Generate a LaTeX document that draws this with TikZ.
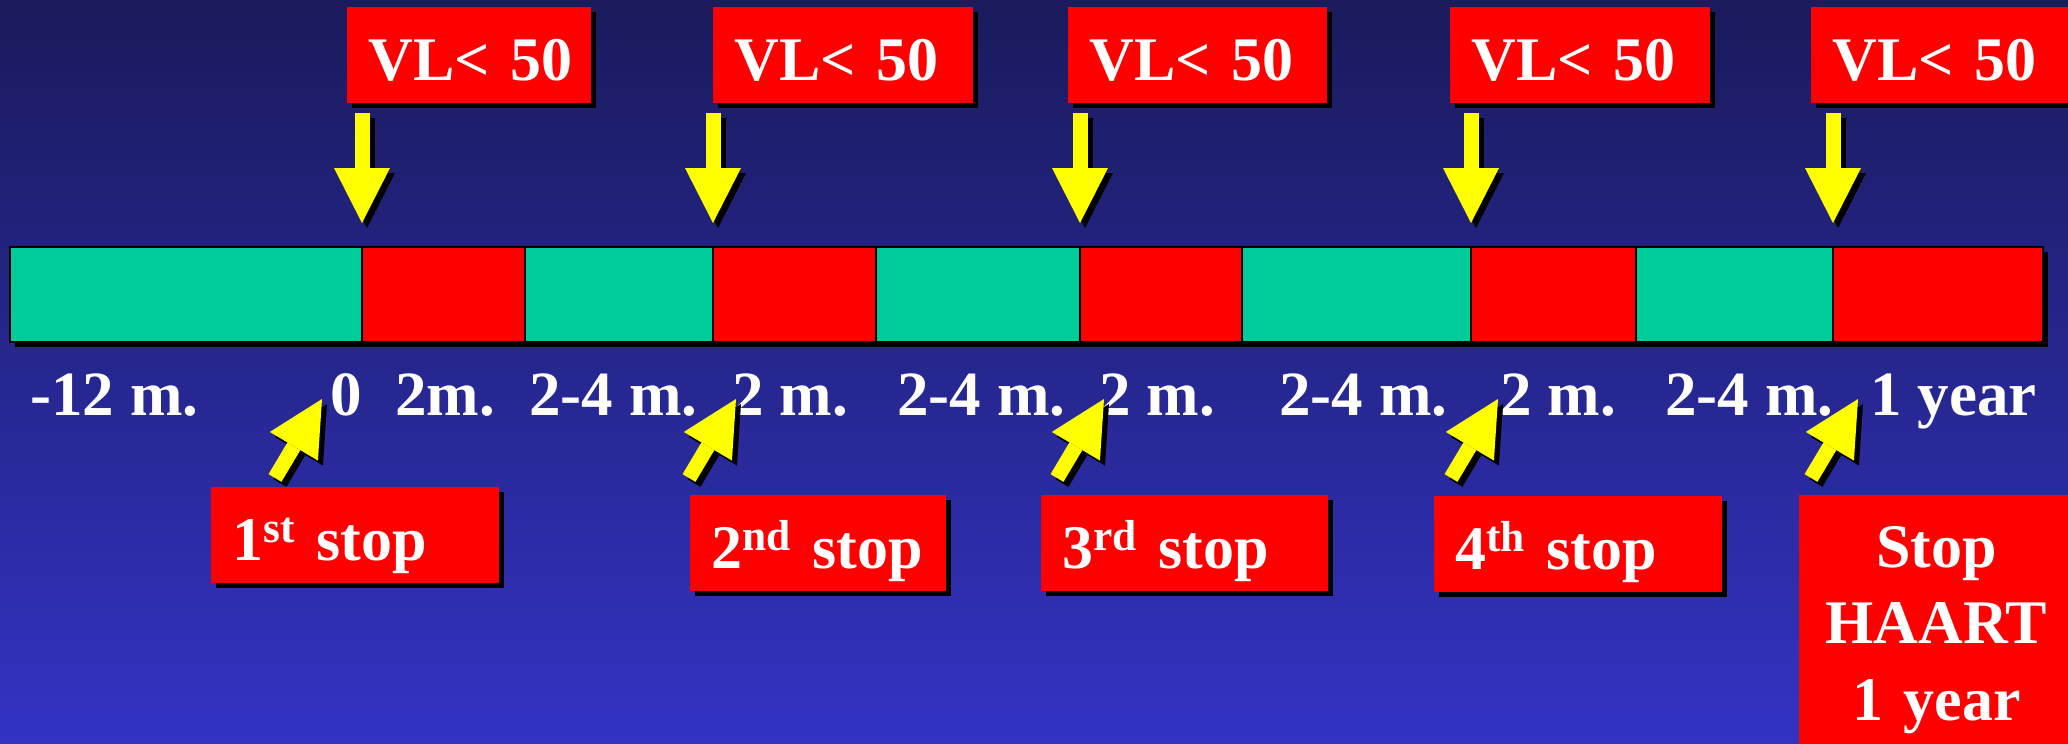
\documentclass[tikz,border=0pt]{standalone}
\usepackage{fontspec}
\setmainfont{Liberation Serif}
\usetikzlibrary{arrows.meta,shadows}
\definecolor{bgtop}{RGB}{26,26,92}
\definecolor{bgbot}{RGB}{51,51,196}
\definecolor{barteal}{RGB}{0,204,153}
\definecolor{boxred}{RGB}{255,0,0}
\definecolor{arrowyel}{RGB}{255,255,0}

\begin{document}
\begin{tikzpicture}[x=0.5pt, y=-0.5pt]
\useasboundingbox (0,0) rectangle (2068,744);
\shade[top color=bgtop, bottom color=bgbot] (0,0) rectangle (2068,744);

\tikzset{redbox/.style={fill=boxred, text=white, anchor=north west, align=left,
  inner xsep=10.5pt, inner ysep=0pt, text width=#1, text height=36.5pt, text depth=11.5pt,
  font=\bfseries\fontsize{31}{38.25}\selectfont,
  drop shadow={shadow xshift=2.5pt, shadow yshift=-2.5pt, fill=black, opacity=1}}}
\tikzset{lbl/.style={text=white, anchor=base west, inner sep=0pt, font=\bfseries\fontsize{31.5}{38}\selectfont}}
\tikzset{yarrow/.style={draw=arrowyel, line width=7.5pt, -{Triangle[width=28pt, length=27.5pt, line width=0pt]}}}
\tikzset{yshadow/.style={yarrow, draw=black, transform canvas={shift={(2.5pt,-2.5pt)}}}}

% time bar
\fill[black] (15,252) rectangle (2048,347);
\foreach \a/\b/\c in {10/362/barteal, 362/525/boxred, 525/713/barteal, 713/876/boxred,
  876/1080/barteal, 1080/1242/boxred, 1242/1471/barteal, 1471/1636/boxred,
  1636/1833/barteal, 1833/2043/boxred}
  \draw[fill=\c, line width=1pt] (\a,247) rectangle (\b,342);
\foreach \x [count=\i] in {362,713,1080,1471,1833}
  \coordinate (b\i) at (\x,247);

% viral load boxes
\foreach \x/\w [count=\i] in {347/101pt, 713/109pt, 1068/108.5pt, 1450/109pt, 1811/109pt}
  \node[redbox=\w] (vl\i) at (\x,7) {VL<~50};

% stops
\node[redbox=123pt] (st1) at (211,487) {1\textsuperscript{st}~stop};
\node[redbox=107pt] (st2) at (690,495) {2\textsuperscript{nd}~stop};
\node[redbox=122.5pt] (st3) at (1041,495) {3\textsuperscript{rd}~stop};
\node[redbox=123pt] (st4) at (1434,496) {4\textsuperscript{th}~stop};
\node[redbox=137pt, align=center, inner xsep=0pt, text height=36pt, text depth=94pt] (st5) at (1799,495) {Stop\\HAART\\1 year};

% time labels
\foreach \x/\t [count=\i] in {30/-12 m., 330/0, 395/2m., 529/2-4 m., 732/2 m., 897/2-4 m.,
  1099/2 m., 1279/2-4 m., 1500/2 m., 1665/2-4 m., 1870/1 year}
  \node[lbl] (m\i) at (\x,415) {\t};

% arrows
\foreach \x [count=\i] in {322,736,1104,1498,1858} {
  \coordinate (q\i) at (\x,399);
  \coordinate (p\i) at (\x-47,478);
}
\foreach \i in {1,...,5} {
  \draw[yshadow, shorten <=4.5pt, shorten >=12pt] (vl\i.south -| b\i) -- (b\i);
  \draw[yarrow, shorten <=4.5pt, shorten >=12pt] (vl\i.south -| b\i) -- (b\i);
  \draw[yshadow] (p\i) -- (q\i);
  \draw[yarrow] (p\i) -- (q\i);
}
\end{tikzpicture}
\end{document}
